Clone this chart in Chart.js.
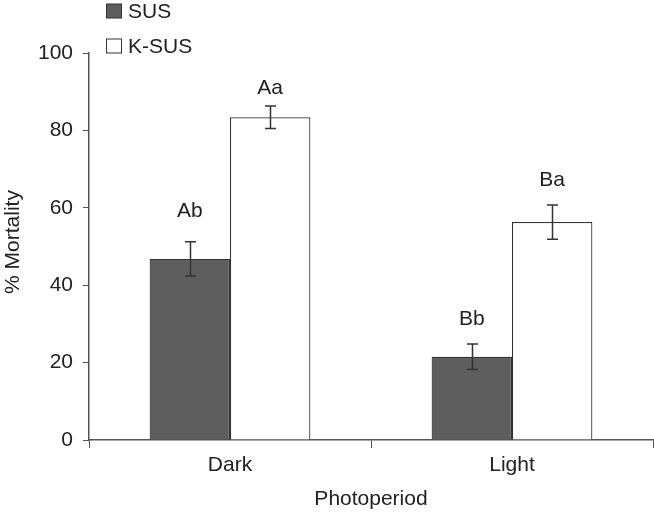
<!DOCTYPE html>
<html>
<head>
<meta charset="utf-8">
<script src="https://cdn.jsdelivr.net/npm/chart.js@4"></script>
<style>
  html, body { margin: 0; padding: 0; background: #fff; }
  #wrap { width: 654px; height: 515px; }
</style>
</head>
<body>
<div id="wrap"><canvas id="chart" width="654" height="515"></canvas></div>
<script>
const categories = ['Dark', 'Light']
const seriesNames = ['SUS', 'K-SUS']
const susValues = [46.8, 21.5]
const ksusValues = [83.4, 56.3]
const susErrors = [4.4, 3.3]
const ksusErrors = [2.9, 4.4]
const susLetters = ['Ab', 'Bb']
const ksusLetters = ['Aa', 'Ba']
// height (in % mortality units) where each letter sits
const susLetterAt = [59.2, 31.3]
const ksusLetterAt = [91.0, 67.2]
const yTicks = [0, 20, 40, 60, 80, 100]

const FONT = 'Liberation Sans, Arial, Helvetica, sans-serif'
const FS = 21
const INK = '#222'
const AXIS = '#555'

// error bars + significance letters
const annotate = {
  id: 'annotate',
  afterDatasetsDraw(chart) {
    const ctx = chart.ctx
    const y = chart.scales.y
    const errs = [susErrors, ksusErrors]
    const letters = [susLetters, ksusLetters]
    const letterAt = [susLetterAt, ksusLetterAt]
    ctx.save()
    chart.data.datasets.forEach((ds, di) => {
      const meta = chart.getDatasetMeta(di)
      meta.data.forEach((bar, i) => {
        const v = ds.data[i]
        const top = y.getPixelForValue(v + errs[di][i])
        const bot = y.getPixelForValue(v - errs[di][i])
        const x = Math.round(bar.x) + 0.5
        ctx.strokeStyle = '#333'
        ctx.lineWidth = 1.5
        ctx.beginPath()
        ctx.moveTo(x, top); ctx.lineTo(x, bot)
        ctx.moveTo(x - 5.5, top); ctx.lineTo(x + 5.5, top)
        ctx.moveTo(x - 5.5, bot); ctx.lineTo(x + 5.5, bot)
        ctx.stroke()
        ctx.fillStyle = INK
        ctx.font = FS + 'px ' + FONT
        ctx.textAlign = 'center'
        ctx.textBaseline = 'middle'
        ctx.fillText(letters[di][i], bar.x, y.getPixelForValue(letterAt[di][i]))
      })
    })
    ctx.restore()
  }
}

// legend stacked top-left, plus the y title
const extras = {
  id: 'extras',
  afterDraw(chart) {
    const ctx = chart.ctx
    ctx.save()
    ctx.font = FS + 'px ' + FONT
    chart.data.datasets.forEach((ds, i) => {
      const yc = 11 + i * 35
      ctx.fillStyle = ds.backgroundColor
      ctx.strokeStyle = '#333'
      ctx.lineWidth = 1
      ctx.fillRect(106.5, yc - 7, 15, 14)
      ctx.strokeRect(106.5, yc - 7, 15, 14)
      ctx.fillStyle = INK
      ctx.textAlign = 'left'
      ctx.textBaseline = 'middle'
      ctx.fillText(ds.label, 128, yc + 1)
    })
    ctx.translate(13, 242)
    ctx.rotate(-Math.PI / 2)
    ctx.textAlign = 'center'
    ctx.textBaseline = 'middle'
    ctx.fillText('% Mortality', 0, 0)
    ctx.restore()
  }
}

new Chart(document.getElementById('chart').getContext('2d'), {
  type: 'bar',
  data: {
    labels: categories,
    datasets: [
      { label: seriesNames[0], data: susValues, backgroundColor: '#5e5e5e', borderColor: '#333', borderWidth: 1.2 },
      { label: seriesNames[1], data: ksusValues, backgroundColor: '#ffffff', borderColor: '#333', borderWidth: 1.2 }
    ]
  },
  options: {
    responsive: false,
    animation: false,
    devicePixelRatio: 1,
    categoryPercentage: 0.57,
    barPercentage: 1,
    layout: { padding: { top: 53, right: 1, left: 0, bottom: 0 } },
    plugins: { legend: { display: false }, tooltip: { enabled: false } },
    scales: {
      x: {
        grid: { offset: true, drawOnChartArea: false, drawTicks: true, tickLength: 8, color: AXIS },
        border: { display: true, color: AXIS, width: 1.5 },
        ticks: { color: INK, font: { size: FS, family: FONT }, padding: 5 },
        title: { display: true, text: 'Photoperiod', color: INK, font: { size: FS, family: FONT }, padding: { top: 4, bottom: 3 } },
        afterFit(s) { s.height = 75 }
      },
      y: {
        min: 0, max: 100,
        afterBuildTicks(s) { s.ticks = yTicks.map(v => ({ value: v })) },
        grid: { drawOnChartArea: false, drawTicks: true, tickLength: 6, color: AXIS },
        border: { display: true, color: AXIS, width: 1.5 },
        ticks: { color: INK, font: { size: FS, family: FONT }, padding: 10 },
        afterFit(s) { s.width = 89 }
      }
    }
  },
  plugins: [annotate, extras]
})
</script>
</body>
</html>
